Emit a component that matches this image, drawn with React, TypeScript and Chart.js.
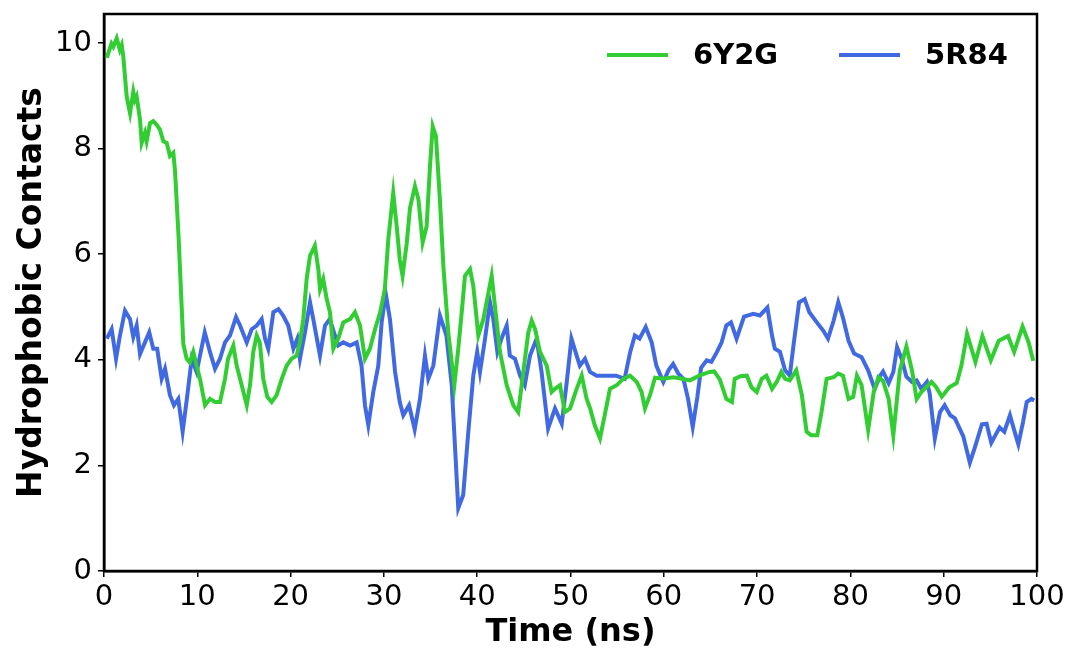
import React, { useEffect, useRef } from "react";
import { Chart, registerables } from "chart.js";

Chart.register(...registerables);

const xTicks = [0, 10, 20, 30, 40, 50, 60, 70, 80, 90, 100];
const yTicks = [0, 2, 4, 6, 8, 10];
const seriesLabels = ["6Y2G", "5R84"];

const time6Y2G = [0.3, 0.8, 1.0, 1.36, 1.7, 1.9, 2.07, 2.43, 2.79, 3.14, 3.32, 3.5, 3.86, 4.04, 4.39, 4.57, 4.93, 5.28, 5.65, 6.0, 6.36, 6.72, 7.07, 7.43, 7.6, 7.7, 8.0, 8.3, 8.5, 8.86, 9.2, 9.57, 9.93, 10.29, 10.83, 11.36, 11.9, 12.43, 12.97, 13.3, 13.86, 14.22, 14.76, 15.3, 15.65, 16.0, 16.37, 16.7, 17.07, 17.5, 17.97, 18.5, 19.05, 19.58, 20.1, 20.65, 21.0, 21.36, 21.72, 22.08, 22.6, 22.97, 23.15, 23.5, 23.87, 24.22, 24.58, 25.1, 25.65, 26.37, 26.9, 27.44, 27.97, 28.5, 29.05, 29.6, 30.1, 30.47, 31.0, 31.37, 31.7, 32.0, 32.44, 32.8, 33.33, 33.7, 34.15, 34.58, 34.94, 35.23, 35.58, 36.0, 36.37, 36.9, 37.55, 37.97, 38.34, 38.69, 39.23, 39.58, 40.12, 40.66, 41.55, 41.9, 42.44, 43.16, 43.87, 44.4, 44.94, 45.48, 45.84, 46.2, 46.73, 47.45, 47.98, 48.34, 48.87, 49.4, 49.95, 50.66, 51.2, 51.73, 52.1, 52.6, 53.16, 53.7, 54.23, 54.95, 55.66, 56.38, 57.1, 57.62, 57.98, 58.52, 59.06, 59.9, 61.0, 61.7, 62.8, 63.8, 64.9, 65.4, 66.0, 66.7, 67.3, 67.6, 68.2, 68.9, 69.4, 69.96, 70.5, 71.0, 71.6, 72.1, 72.6, 73.0, 73.5, 74.2, 74.8, 75.3, 75.8, 76.45, 76.9, 77.45, 78.2, 78.7, 79.2, 79.8, 80.3, 80.7, 81.2, 81.9, 82.5, 83.0, 83.5, 84.1, 84.6, 85.3, 86.0, 86.6, 87.1, 87.6, 88.7, 89.2, 89.8, 90.6, 91.4, 91.9, 92.5, 93.4, 94.15, 95.05, 95.9, 96.9, 97.55, 98.45, 99.1, 99.6];
const value6Y2G = [9.72, 9.99, 9.93, 10.09, 9.87, 9.96, 9.74, 8.99, 8.67, 9.08, 8.92, 8.99, 8.55, 8.11, 8.3, 8.14, 8.48, 8.52, 8.45, 8.36, 8.14, 8.11, 7.86, 7.92, 7.6, 7.3, 6.3, 5.1, 4.3, 4.02, 3.95, 4.15, 3.89, 3.64, 3.14, 3.26, 3.2, 3.2, 3.64, 4.02, 4.27, 3.89, 3.52, 3.14, 3.52, 4.15, 4.46, 4.33, 3.64, 3.3, 3.2, 3.33, 3.64, 3.89, 4.02, 4.08, 4.33, 4.77, 5.53, 5.97, 6.16, 5.72, 5.34, 5.53, 5.15, 4.9, 4.21, 4.4, 4.71, 4.77, 4.9, 4.65, 4.02, 4.21, 4.58, 4.9, 5.34, 6.28, 7.16, 6.53, 5.9, 5.59, 6.2, 6.88, 7.29, 7.04, 6.22, 6.53, 7.67, 8.42, 8.23, 7.04, 5.78, 4.52, 3.52, 4.21, 4.9, 5.59, 5.72, 5.4, 4.46, 4.77, 5.59, 5.02, 4.15, 3.52, 3.14, 3.01, 3.77, 4.52, 4.74, 4.58, 4.15, 3.89, 3.39, 3.45, 3.52, 3.01, 3.08, 3.45, 3.7, 3.26, 3.08, 2.76, 2.51, 2.98, 3.45, 3.52, 3.64, 3.7, 3.58, 3.39, 3.08, 3.33, 3.66, 3.64, 3.67, 3.65, 3.61, 3.7, 3.77, 3.78, 3.63, 3.26, 3.2, 3.64, 3.69, 3.7, 3.48, 3.39, 3.64, 3.7, 3.45, 3.58, 3.77, 3.64, 3.61, 3.8, 3.33, 2.64, 2.57, 2.57, 3.01, 3.64, 3.67, 3.74, 3.7, 3.26, 3.3, 3.7, 3.52, 2.67, 3.39, 3.67, 3.6, 3.26, 2.57, 3.8, 4.25, 3.8, 3.26, 3.39, 3.58, 3.48, 3.3, 3.48, 3.56, 3.89, 4.49, 3.96, 4.45, 3.99, 4.36, 4.45, 4.15, 4.63, 4.33, 3.98];

const time5R84 = [0.3, 0.82, 1.29, 1.71, 2.25, 2.79, 3.14, 3.5, 3.86, 4.39, 4.85, 5.28, 5.7, 6.18, 6.54, 7.07, 7.5, 7.96, 8.43, 8.93, 9.4, 9.93, 10.29, 10.8, 11.36, 11.9, 12.43, 12.97, 13.5, 14.15, 14.58, 15.3, 15.83, 16.37, 16.9, 17.26, 17.6, 18.15, 18.7, 19.2, 19.75, 20.3, 20.72, 21.0, 21.54, 22.08, 22.43, 23.15, 23.69, 24.2, 24.65, 25.1, 25.65, 26.37, 27.08, 27.6, 27.97, 28.33, 28.86, 29.4, 29.76, 30.2, 30.65, 31.2, 31.7, 32.08, 32.7, 33.3, 33.87, 34.4, 34.76, 35.3, 36.0, 36.7, 37.27, 37.97, 38.5, 39.05, 39.58, 40.0, 40.3, 40.84, 41.37, 41.73, 42.16, 42.6, 43.16, 43.5, 44.05, 44.6, 45.1, 45.66, 46.37, 46.9, 47.6, 48.34, 49.06, 49.6, 50.1, 50.66, 51.0, 51.55, 52.1, 52.8, 53.9, 54.9, 55.8, 56.4, 56.9, 57.4, 58.06, 58.7, 59.2, 59.95, 60.5, 61.0, 61.55, 62.1, 62.6, 63.1, 63.6, 64.0, 64.6, 65.1, 65.7, 66.2, 66.7, 67.2, 67.8, 68.6, 69.6, 70.3, 71.1, 71.6, 71.9, 72.45, 73.0, 73.5, 73.9, 74.5, 75.1, 75.6, 76.4, 77.1, 77.6, 78.2, 78.7, 79.2, 79.8, 80.4, 81.2, 81.9, 82.6, 83.2, 83.5, 84.1, 84.6, 85.0, 85.5, 86.0, 86.6, 87.1, 87.6, 88.2, 88.5, 89.05, 89.6, 90.1, 90.7, 91.2, 92.1, 92.8, 93.3, 94.1, 94.6, 95.1, 96.0, 96.5, 97.1, 97.6, 98.0, 98.5, 98.9, 99.4, 99.7];
const value5R84 = [4.4, 4.58, 4.02, 4.46, 4.93, 4.77, 4.43, 4.65, 4.11, 4.33, 4.52, 4.21, 4.21, 3.64, 3.83, 3.33, 3.14, 3.26, 2.64, 3.33, 4.02, 3.77, 4.08, 4.52, 4.15, 3.83, 4.02, 4.33, 4.46, 4.81, 4.65, 4.33, 4.58, 4.65, 4.77, 4.4, 4.21, 4.9, 4.96, 4.84, 4.65, 4.21, 4.4, 4.02, 4.52, 5.09, 4.77, 4.08, 4.65, 4.77, 4.52, 4.27, 4.33, 4.27, 4.33, 3.89, 3.14, 2.76, 3.39, 3.89, 4.71, 5.25, 4.77, 3.77, 3.2, 2.95, 3.14, 2.68, 3.26, 4.08, 3.64, 3.89, 4.84, 4.46, 3.52, 1.19, 1.44, 2.64, 3.7, 4.15, 3.77, 4.4, 5.09, 4.77, 4.15, 4.4, 4.65, 4.08, 4.02, 3.7, 3.52, 4.08, 4.4, 3.77, 2.7, 3.08, 2.79, 3.58, 4.4, 4.08, 3.89, 4.02, 3.77, 3.7, 3.7, 3.7, 3.64, 4.15, 4.46, 4.4, 4.62, 4.33, 3.89, 3.58, 3.8, 3.92, 3.74, 3.64, 3.26, 2.73, 3.3, 3.85, 3.99, 3.96, 4.15, 4.33, 4.65, 4.71, 4.4, 4.82, 4.87, 4.84, 4.99, 4.46, 4.21, 4.15, 3.8, 3.7, 4.27, 5.09, 5.15, 4.9, 4.71, 4.55, 4.4, 4.74, 5.09, 4.8, 4.36, 4.12, 4.05, 3.8, 3.45, 3.7, 3.78, 3.56, 3.77, 4.24, 4.02, 3.68, 3.58, 3.61, 3.45, 3.58, 3.36, 2.51, 3.01, 3.14, 2.95, 2.89, 2.55, 2.05, 2.32, 2.78, 2.79, 2.43, 2.72, 2.64, 2.95, 2.64, 2.4, 2.82, 3.2, 3.26, 3.23];

const colors = ["#32CD32", "#4169E1"];
const FONT = "'DejaVu Sans', sans-serif";

const framePlugin = {
  id: "frame",
  afterDraw(chart: any) {
    const { ctx, chartArea } = chart;
    const { left, top, right, bottom } = chartArea;
    ctx.save();
    ctx.strokeStyle = "#000";
    ctx.lineWidth = 2.5;
    ctx.strokeRect(left, top, right - left, bottom - top);
    // legend
    const ds = chart.data.datasets;
    const startX = right - 430;
    const y = top + 41;
    ctx.font = `bold 29px ${FONT}`;
    ctx.textBaseline = "middle";
    ctx.textAlign = "left";
    let x = startX;
    ds.forEach((d: any) => {
      ctx.strokeStyle = d.borderColor;
      ctx.lineWidth = 4;
      ctx.beginPath();
      ctx.moveTo(x, y);
      ctx.lineTo(x + 61, y);
      ctx.stroke();
      ctx.fillStyle = "#000";
      ctx.fillText(d.label, x + 86, y + 1);
      x += 232;
    });
    ctx.restore();
  },
};

export default function App() {
  const ref = useRef<HTMLCanvasElement>(null);
  useEffect(() => {
    if (!ref.current) return;
    const chart = new Chart(ref.current, {
      type: "line",
      data: {
        datasets: [
          {
            label: seriesLabels[0],
            data: time6Y2G.map((t, i) => ({ x: t, y: value6Y2G[i] })),
            borderColor: colors[0],
            backgroundColor: colors[0],
            borderWidth: 4,
            pointRadius: 0,
            tension: 0,
          },
          {
            label: seriesLabels[1],
            data: time5R84.map((t, i) => ({ x: t, y: value5R84[i] })),
            borderColor: colors[1],
            backgroundColor: colors[1],
            borderWidth: 4,
            pointRadius: 0,
            tension: 0,
          },
        ],
      },
      options: {
        animation: false,
        responsive: false,
        maintainAspectRatio: false,
        layout: { padding: { left: 0, top: 14, right: 34, bottom: 0 } },
        plugins: { legend: { display: false }, tooltip: { enabled: false } },
        scales: {
          x: {
            type: "linear",
            min: 0,
            max: 100,
            afterBuildTicks: (s: any) => {
              s.ticks = xTicks.map((v) => ({ value: v }));
            },
            afterFit: (s: any) => {
              s.height = 81;
            },
            grid: { drawOnChartArea: false, drawTicks: true, tickLength: 6, tickColor: "#000", lineWidth: 1.5 },
            border: { display: true, color: "#000", width: 2.5 },
            ticks: { color: "#000", font: { family: FONT, size: 29 }, padding: 3, maxRotation: 0 },
            title: {
              display: true,
              text: "Time (ns)",
              color: "#000",
              font: { family: FONT, size: 32, weight: "bold" },
              padding: { top: 0, bottom: 0 },
            },
          },
          y: {
            type: "linear",
            min: 0,
            max: 10.55,
            afterBuildTicks: (s: any) => {
              s.ticks = yTicks.map((v) => ({ value: v }));
            },
            afterFit: (s: any) => {
              s.width = 104;
              s.paddingTop = 0;
              s.paddingBottom = 0;
            },
            grid: { drawOnChartArea: false, drawTicks: true, tickLength: 6, tickColor: "#000", lineWidth: 1.5 },
            border: { display: true, color: "#000", width: 2.5 },
            ticks: { color: "#000", font: { family: FONT, size: 29 }, padding: 6 },
            title: {
              display: true,
              text: "Hydrophobic Contacts",
              color: "#000",
              font: { family: FONT, size: 33, weight: "bold" },
              padding: { top: 13, bottom: 0 },
            },
          },
        },
      },
      plugins: [framePlugin],
    });
    return () => chart.destroy();
  }, []);
  return (
    <div style={{ position: "fixed", left: 0, top: 0, width: 1071, height: 652, background: "#fff" }}>
      <canvas ref={ref} width={1071} height={652} />
    </div>
  );
}
